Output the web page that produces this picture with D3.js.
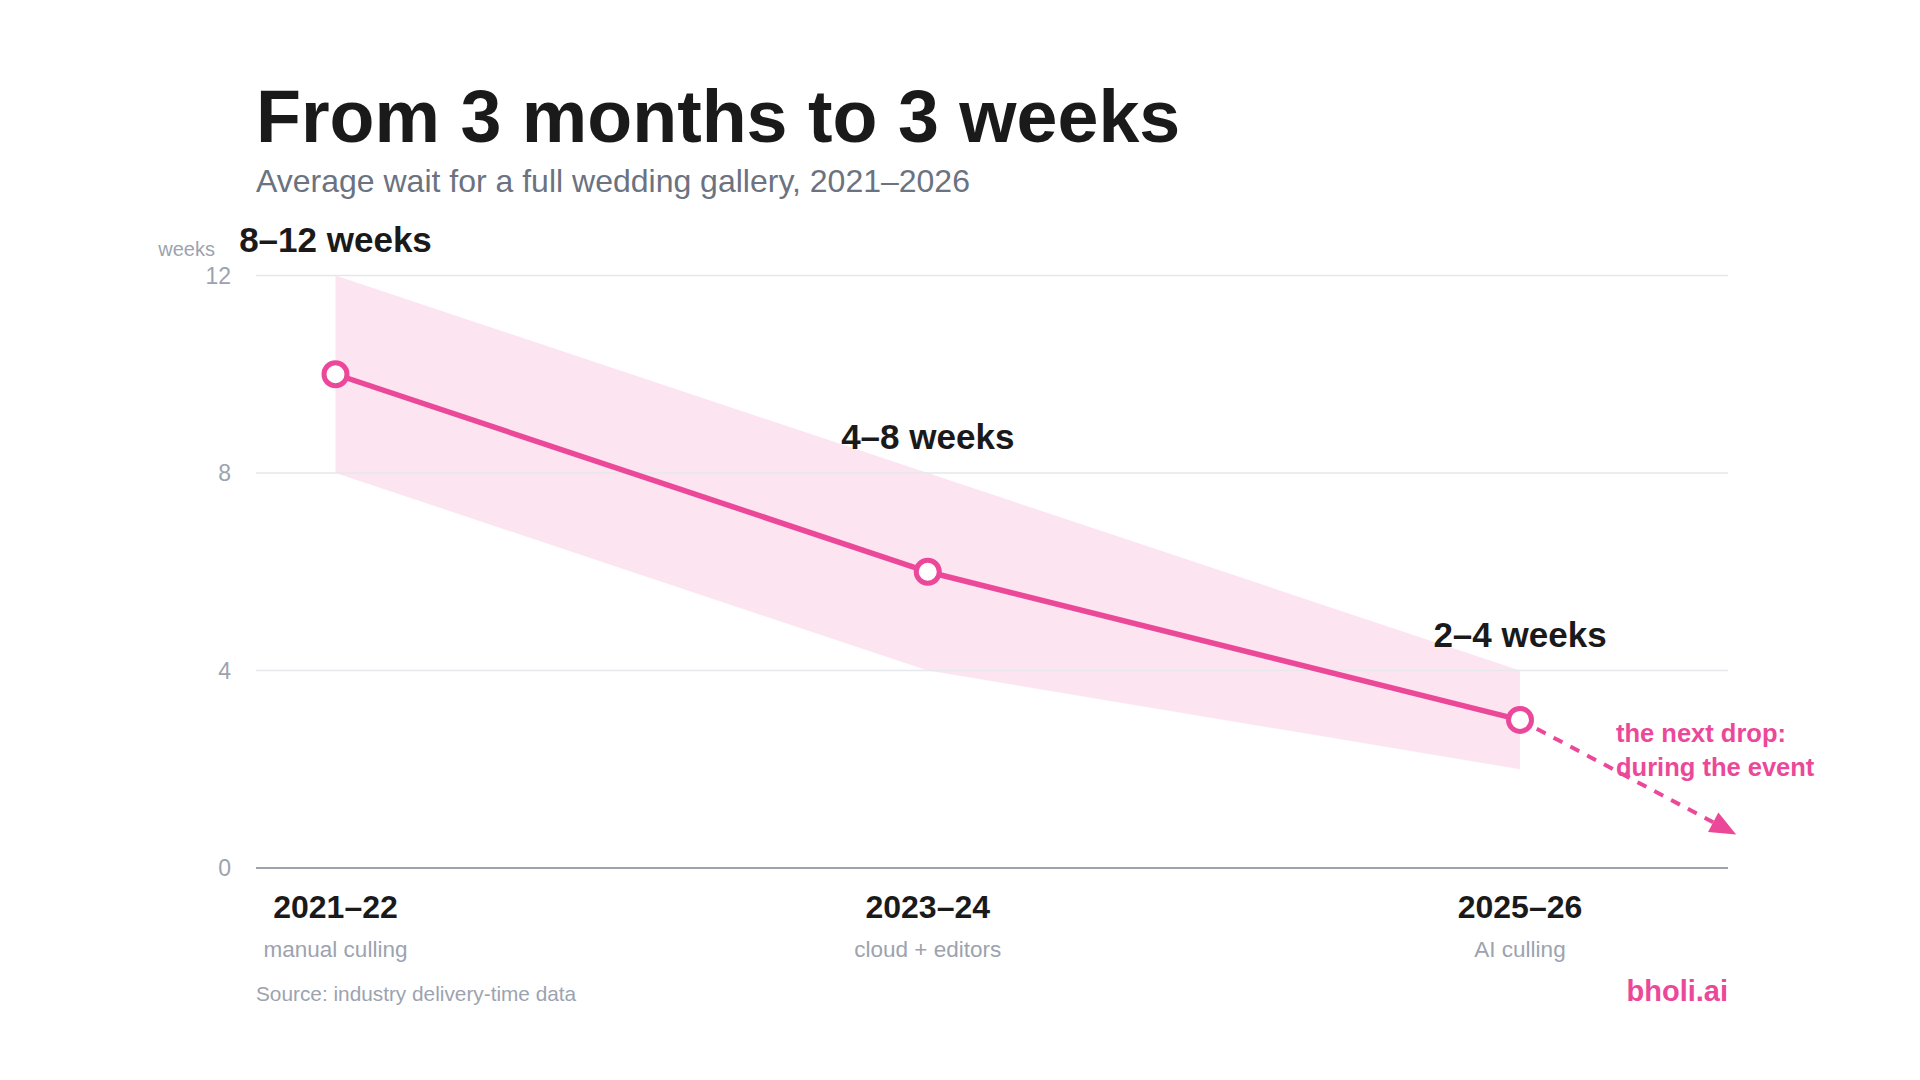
<!DOCTYPE html>
<html>
<head>
<meta charset="utf-8">
<script src="https://cdn.jsdelivr.net/npm/d3@7"></script>
<style>
  html, body { margin: 0; padding: 0; background: #fff; }
  svg { display: block; font-family: "Liberation Sans", Arial, sans-serif; }
</style>
</head>
<body>
<svg id="chart" width="1920" height="1080"></svg>
<script>
// data
let periods = ["2021–22", "2023–24", "2025–26"];
let methods = ["manual culling", "cloud + editors", "AI culling"];
let midWeeks = [10, 6, 3];
let lowWeeks = [8, 4, 2];
let highWeeks = [12, 8, 4];
let rangeLabels = ["8–12 weeks", "4–8 weeks", "2–4 weeks"];
let yTicks = [0, 4, 8, 12];
// where the dashed "next drop" arrow ends (period index, weeks)
let nextDrop = [2.365, 0.68];

let pink = "#ec4899";
let svg = d3.select("#chart");

let plotLeft = 256, plotRight = 1728, plotTop = 275.5, plotBottom = 868;

let y = d3.scaleLinear().domain([0, 12]).range([plotBottom, plotTop]);
let x = d3.scaleLinear().domain([0, 2]).range([335.5, 1520]);

// title
svg.append("text")
  .text("From 3 months to 3 weeks")
  .attr("x", plotLeft).attr("y", 141.5)
  .attr("font-size", 73.6).attr("font-weight", 700)
  .attr("fill", "#1a1a1a");

svg.append("text")
  .text("Average wait for a full wedding gallery, 2021–2026")
  .attr("x", plotLeft).attr("y", 192)
  .attr("font-size", 32)
  .attr("fill", "#6b7280");

// band
let area = d3.area()
  .x((d, i) => x(i))
  .y0((d, i) => y(lowWeeks[i]))
  .y1((d, i) => y(highWeeks[i]));

svg.append("path")
  .datum(periods)
  .attr("d", area)
  .attr("fill", pink)
  .attr("fill-opacity", 0.14);

// grid
svg.append("g")
  .selectAll("line")
  .data(yTicks.filter(t => t > 0))
  .enter()
  .append("line")
  .attr("x1", plotLeft).attr("x2", plotRight)
  .attr("y1", d => y(d)).attr("y2", d => y(d))
  .attr("stroke", "#e5e7eb")
  .attr("stroke-width", 1.5);

svg.append("line")
  .attr("x1", plotLeft).attr("x2", plotRight)
  .attr("y1", y(0)).attr("y2", y(0))
  .attr("stroke", "#9ca3af")
  .attr("stroke-width", 2);

svg.append("g")
  .selectAll("text")
  .data(yTicks)
  .enter()
  .append("text")
  .text(d => d)
  .attr("x", 231)
  .attr("y", d => y(d))
  .attr("dy", "0.36em")
  .attr("text-anchor", "end")
  .attr("font-size", 23)
  .attr("fill", "#9ca3af");

svg.append("text")
  .text("weeks")
  .attr("x", 215).attr("y", 256)
  .attr("text-anchor", "end")
  .attr("font-size", 20)
  .attr("fill", "#9ca3af");

// dashed arrow to next drop
let start = [x(2), y(midWeeks[2])];
let end = [x(nextDrop[0]), y(nextDrop[1])];
let ang = Math.atan2(end[1] - start[1], end[0] - start[0]);
let headLen = 26, headW = 11;
let base = [end[0] - headLen * Math.cos(ang), end[1] - headLen * Math.sin(ang)];

svg.append("line")
  .attr("x1", start[0]).attr("y1", start[1])
  .attr("x2", base[0]).attr("y2", base[1])
  .attr("stroke", pink)
  .attr("stroke-width", 4)
  .attr("stroke-dasharray", "10 9");

svg.append("path")
  .attr("d", d3.line()([
    end,
    [base[0] + headW * Math.sin(ang), base[1] - headW * Math.cos(ang)],
    [base[0] - headW * Math.sin(ang), base[1] + headW * Math.cos(ang)]
  ]) + "Z")
  .attr("fill", pink);

// main line
svg.append("path")
  .datum(midWeeks)
  .attr("d", d3.line().x((d, i) => x(i)).y(d => y(d)))
  .attr("fill", "none")
  .attr("stroke", pink)
  .attr("stroke-width", 5.5);

svg.append("g")
  .selectAll("circle")
  .data(midWeeks)
  .enter()
  .append("circle")
  .attr("cx", (d, i) => x(i))
  .attr("cy", d => y(d))
  .attr("r", 11.5)
  .attr("fill", "#fff")
  .attr("stroke", pink)
  .attr("stroke-width", 5);

// range labels
svg.append("g")
  .selectAll("text")
  .data(rangeLabels)
  .enter()
  .append("text")
  .text(d => d)
  .attr("x", (d, i) => x(i))
  .attr("y", (d, i) => y(highWeeks[i]) - 24)
  .attr("text-anchor", "middle")
  .attr("font-size", 35).attr("font-weight", 700)
  .attr("fill", "#1a1a1a");

// x labels
svg.append("g")
  .selectAll("text")
  .data(periods)
  .enter()
  .append("text")
  .text(d => d)
  .attr("x", (d, i) => x(i))
  .attr("y", 918)
  .attr("text-anchor", "middle")
  .attr("font-size", 32).attr("font-weight", 700)
  .attr("fill", "#1a1a1a");

svg.append("g")
  .selectAll("text")
  .data(methods)
  .enter()
  .append("text")
  .text(d => d)
  .attr("x", (d, i) => x(i))
  .attr("y", 957)
  .attr("text-anchor", "middle")
  .attr("font-size", 22.5)
  .attr("fill", "#9ca3af");

// annotation
let note = svg.append("text")
  .attr("x", 1616).attr("y", 742)
  .attr("font-size", 25.5).attr("font-weight", 700)
  .attr("fill", pink);
note.append("tspan").attr("x", 1616).text("the next drop:");
note.append("tspan").attr("x", 1616).attr("dy", 34).text("during the event");

// footer
svg.append("text")
  .text("Source: industry delivery-time data")
  .attr("x", plotLeft).attr("y", 1001)
  .attr("font-size", 20.8)
  .attr("fill", "#9ca3af");

svg.append("text")
  .text("bholi.ai")
  .attr("x", plotRight).attr("y", 1001)
  .attr("text-anchor", "end")
  .attr("font-size", 29).attr("font-weight", 700)
  .attr("fill", pink);
</script>
</body>
</html>
